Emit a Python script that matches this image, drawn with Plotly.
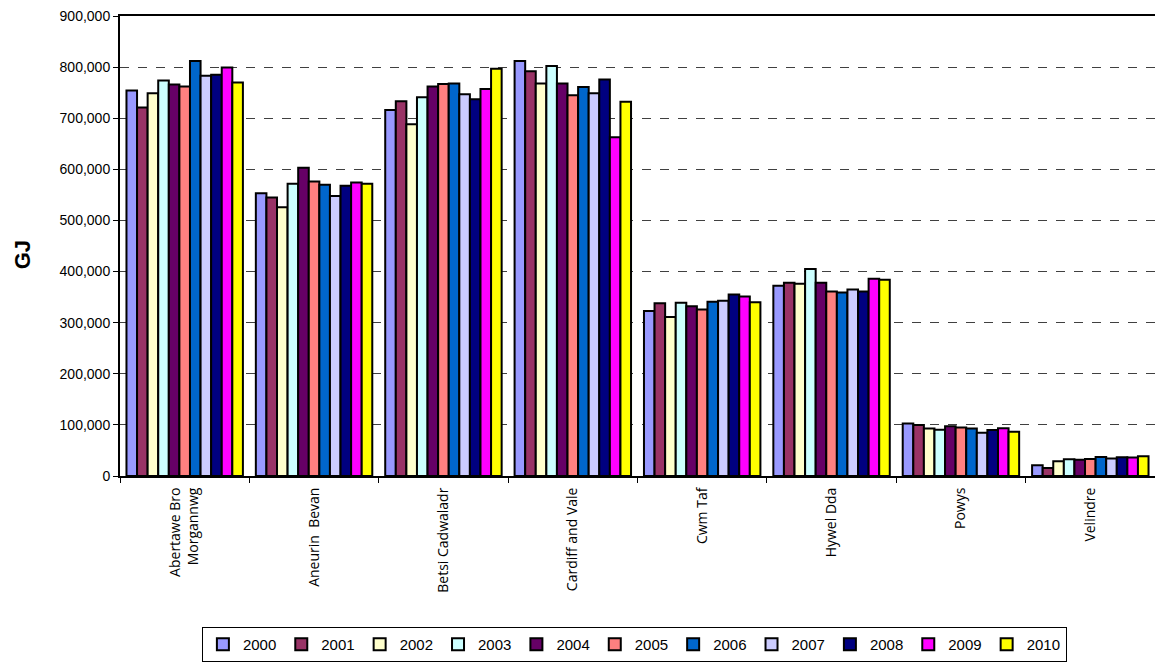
import plotly.graph_objects as go

categories = ["Abertawe Bro<br>Morgannwg", "Aneurin  Bevan", "Betsi Cadwaladr", "Cardiff and Vale",
              "Cwm Taf", "Hywel Dda", "Powys", "Velindre"]
years = ["2000", "2001", "2002", "2003", "2004", "2005", "2006", "2007", "2008", "2009", "2010"]
colors = ["#9999FF", "#993366", "#FFFFCC", "#CCFFFF", "#660066", "#FF8080",
          "#0066CC", "#CCCCFF", "#000080", "#FF00FF", "#FFFF00"]

# values per year, ordered as categories
v2000 = [754000, 553000, 716000, 812000, 323000, 372000, 102600, 20800]
v2001 = [721000, 545000, 733000, 792000, 338000, 378000, 100000, 15500]
v2002 = [749000, 526000, 688000, 768000, 311000, 376000, 92700, 28700]
v2003 = [774000, 572000, 741000, 802000, 339000, 405000, 90700, 32700]
v2004 = [766000, 603000, 762000, 768000, 332000, 378000, 97400, 32000]
v2005 = [762000, 576000, 767000, 745000, 326000, 361000, 94700, 33300]
v2006 = [812000, 570000, 768000, 761000, 341000, 359000, 92700, 37200]
v2007 = [783000, 548000, 747000, 749000, 343000, 365000, 84800, 34000]
v2008 = [785000, 568000, 737000, 776000, 355000, 361000, 90000, 36600]
v2009 = [799000, 574000, 757000, 663000, 351000, 386000, 93500, 36000]
v2010 = [770000, 572000, 797000, 732000, 340000, 384000, 86700, 38600]
series = [v2000, v2001, v2002, v2003, v2004, v2005, v2006, v2007, v2008, v2009, v2010]

fig = go.Figure()
for yr, col, vals in zip(years, colors, series):
    fig.add_trace(go.Bar(
        x=categories, y=vals, name=yr,
        marker=dict(color=col, line=dict(color="black", width=2)),
    ))

fig.add_annotation(
    text="<b>GJ</b>", textangle=-90, xref="paper", yref="paper",
    x=-0.0947, y=0.482, xanchor="center", yanchor="middle", showarrow=False,
    font=dict(size=22, family="Liberation Sans, Arial", color="black"),
)

fig.update_layout(
    width=1155, height=662,
    margin=dict(l=120, r=0, t=16, b=186),
    paper_bgcolor="white", plot_bgcolor="white",
    barmode="group", bargap=0.1, bargroupgap=0,
    font=dict(family="Liberation Sans, Arial", color="black"),
    showlegend=True,
    legend=dict(
        orientation="h", x=0.497, xanchor="center", y=-0.328, yanchor="top",
        bordercolor="black", borderwidth=1, bgcolor="white",
        font=dict(family="Liberation Sans, Arial", size=15, color="black"),
        itemwidth=30, tracegroupgap=0, traceorder="normal",
    ),
    yaxis=dict(
        range=[0, 900000], dtick=100000, tickformat=",d",
        showgrid=True, gridcolor="#404040", gridwidth=1, griddash="dash",
        showline=True, linecolor="black", linewidth=2,
        ticks="outside", ticklen=5, tickcolor="black", tickwidth=1,
        tickfont=dict(size=14, family="Liberation Sans, Arial"),
        zeroline=False,
    ),
    xaxis=dict(
        type="category", tickangle=-90,
        showline=True, linecolor="black", linewidth=2, mirror=True,
        ticks="outside", ticklen=5, tickcolor="black", tickson="boundaries",
        tickfont=dict(size=14, family="Open Sans"), ticklabelstandoff=4,
        showgrid=False,
    ),
)

fig.write_html("out.html")
